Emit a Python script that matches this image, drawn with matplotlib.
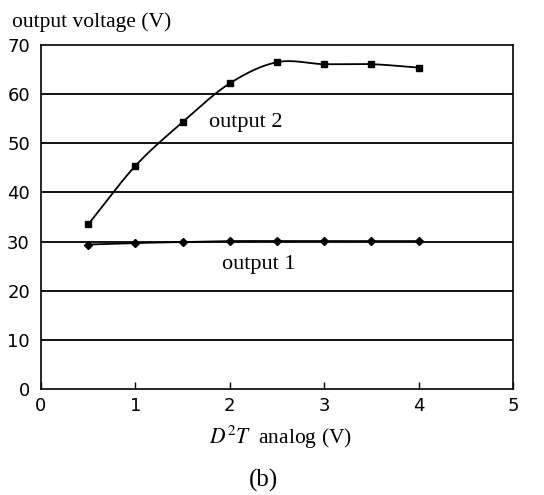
import numpy as np
import matplotlib
matplotlib.use("Agg")
import matplotlib.pyplot as plt

x_vals = [0.5, 1.0, 1.5, 2.0, 2.5, 3.0, 3.5, 4.0]
output2 = [33.5, 45.4, 54.3, 62.2, 66.5, 66.1, 66.1, 65.4]
output1 = [29.4, 29.7, 29.9, 30.1, 30.1, 30.1, 30.1, 30.1]
x_ticks = [0, 1, 2, 3, 4, 5]
y_ticks = [0, 10, 20, 30, 40, 50, 60, 70]


def smooth(xs, ys, n=30):
    # Catmull-Rom style smoothing (like Excel smoothed lines)
    xs = np.asarray(xs, float)
    ys = np.asarray(ys, float)
    P = np.column_stack([xs, ys])
    P = np.vstack([P[0] - (P[1] - P[0]), P, P[-1] + (P[-1] - P[-2])])
    out = []
    for i in range(1, len(P) - 2):
        p0, p1, p2, p3 = P[i - 1], P[i], P[i + 1], P[i + 2]
        c1 = p1 + (p2 - p0) / 6.0
        c2 = p2 - (p3 - p1) / 6.0
        t = np.linspace(0, 1, n)[:, None]
        seg = ((1 - t) ** 3) * p1 + 3 * ((1 - t) ** 2) * t * c1 + 3 * (1 - t) * t ** 2 * c2 + t ** 3 * p2
        out.append(seg if i == 1 else seg[1:])
    out = np.vstack(out)
    return out[:, 0], out[:, 1]


fig = plt.figure(figsize=(5.44, 4.95), dpi=100)
ax = fig.add_axes([41 / 544, 1 - 389 / 495, 472 / 544, 344 / 495])

ax.set_xlim(0, 5)
ax.set_ylim(0, 70)
for y in y_ticks[1:-1]:
    ax.axhline(y, color="black", lw=1.3, zorder=1)

sx, sy = smooth(x_vals, output2)
ax.plot(sx, sy, color="black", lw=1.3, zorder=2)
ax.plot(x_vals, output2, ls="none", marker="s", ms=4, color="black", zorder=3)

sx, sy = smooth(x_vals, output1)
ax.plot(sx, sy, color="black", lw=1.3, zorder=2)
ax.plot(x_vals, output1, ls="none", marker="D", ms=4.5, color="black", zorder=3)

ax.set_xticks(x_ticks)
ax.set_yticks(y_ticks)
ax.tick_params(axis="x", direction="in", length=5, width=1, pad=6, labelsize=13)
ax.tick_params(axis="y", length=0, pad=8, labelsize=13)
for s in ax.spines.values():
    s.set_linewidth(1.2)

serif = "Liberation Serif"
ax.text(1.78, 54.2, "output 2", fontsize=16, family=serif, ha="left", va="center")
ax.text(1.92, 25.3, "output 1", fontsize=16, family=serif, ha="left", va="center")

fig.text(12 / 544, 1 - 22 / 495, "output voltage (V)", fontsize=15.5, family=serif, ha="left", va="center")
fig.text(280 / 544, 1 - 437 / 495, r"$D^2T$  analog (V)", fontsize=15.5, family=serif, ha="center", va="center",
         math_fontfamily="stix")
fig.text(264 / 544, 1 - 480 / 495, "(b)", fontsize=18, family=serif, ha="center", va="center")

fig.savefig("out.png", dpi=100)
